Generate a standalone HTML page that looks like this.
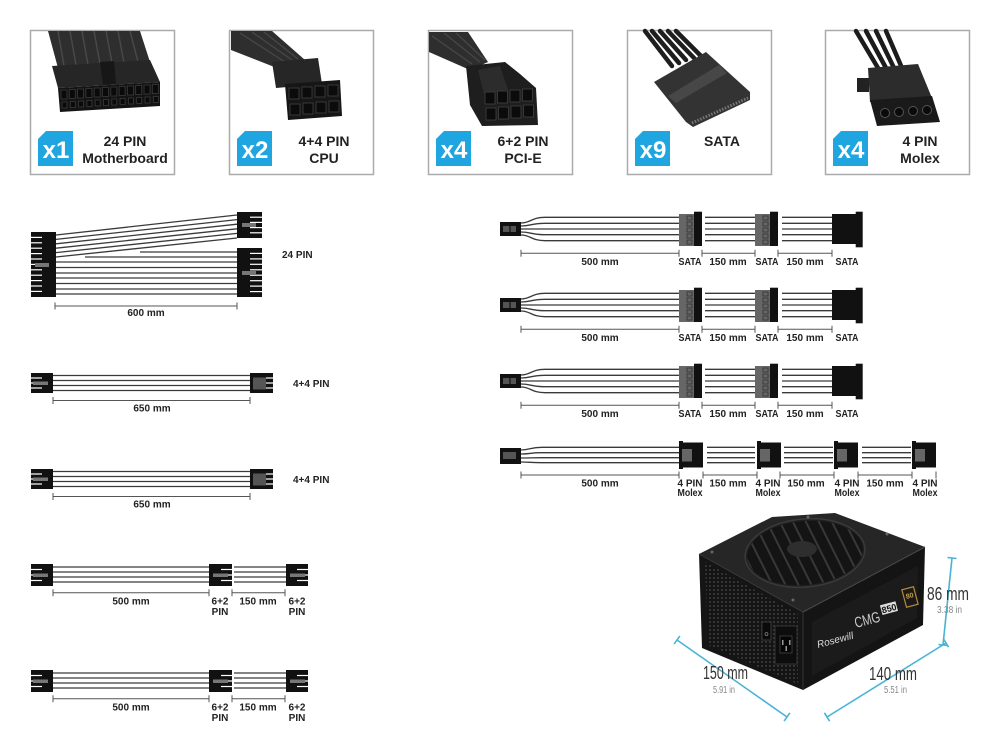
<!DOCTYPE html>
<html><head><meta charset="utf-8"><style>
html,body{margin:0;padding:0;background:#fff;}
svg{display:block;}
text{font-family:"Liberation Sans",Arial,sans-serif;}
.b{font-weight:bold;fill:#222;}
.l{font-size:10px;font-weight:bold;fill:#222;text-anchor:middle;}
.w{stroke:#3a3a3a;stroke-width:1.3;fill:none;}
.d{stroke:#555;stroke-width:1;fill:none;}
.st{stroke:#fff;stroke-width:1.2;}
.cy{stroke:#48b4d4;stroke-width:1.6;fill:none;}
</style></head><body>
<svg width="1000" height="750" viewBox="0 0 1000 750" xmlns="http://www.w3.org/2000/svg">
<defs>
<pattern id="mesh" width="4" height="4" patternUnits="userSpaceOnUse">
<rect width="4" height="4" fill="#141414"/><circle cx="2" cy="2" r="0.9" fill="#4a4a4a"/>
</pattern>
<clipPath id="fanclip"><ellipse cx="805" cy="553" rx="58" ry="32" transform="rotate(-5 805 553)"/></clipPath>
</defs>

<!-- ===== TOP BOXES ===== -->
<g fill="none" stroke="#aaa" stroke-width="1.5">
<rect x="30.5" y="30.5" width="144" height="144"/>
<rect x="229.5" y="30.5" width="144" height="144"/>
<rect x="428.5" y="30.5" width="144" height="144"/>
<rect x="627.5" y="30.5" width="144" height="144"/>
<rect x="825.5" y="30.5" width="144" height="144"/>
</g>

<!-- badges -->
<g fill="#1fa5df">
<polygon points="46,131 73,131 73,166 38,166 38,139"/>
<polygon points="245,131 272,131 272,166 237,166 237,139"/>
<polygon points="444,131 471,131 471,166 436,166 436,139"/>
<polygon points="643,131 670,131 670,166 635,166 635,139"/>
<polygon points="841,131 868,131 868,166 833,166 833,139"/>
</g>
<g font-size="24" font-weight="bold" fill="#fff" text-anchor="middle">
<text x="56" y="158">x1</text>
<text x="255" y="158">x2</text>
<text x="454" y="158">x4</text>
<text x="653" y="158">x9</text>
<text x="851" y="158">x4</text>
</g>
<g class="b" font-size="14" text-anchor="middle">
<text x="125" y="146">24 PIN</text>
<text x="125" y="163">Motherboard</text>
<text x="324" y="146">4+4 PIN</text>
<text x="324" y="163">CPU</text>
<text x="523" y="146">6+2 PIN</text>
<text x="523" y="163">PCI-E</text>
<text x="722" y="146">SATA</text>
<text x="920" y="146">4 PIN</text>
<text x="920" y="163">Molex</text>
</g>

<!-- box1 photo -->
<polygon points="48,31 140,31 150,62 58,68" fill="#2e2e2e"/>
<g stroke="#484848" stroke-width="1.5">
<line x1="58" y1="31" x2="64" y2="66"/><line x1="70" y1="31" x2="76" y2="65"/><line x1="82" y1="31" x2="88" y2="65"/>
<line x1="94" y1="31" x2="100" y2="64"/><line x1="106" y1="31" x2="112" y2="63"/><line x1="118" y1="31" x2="124" y2="63"/><line x1="130" y1="31" x2="138" y2="62"/>
</g>
<polygon points="52,66 150,60 160,82 58,88" fill="#262626"/>
<polygon points="100,62 114,61 116,84 103,85" fill="#171717"/>
<polygon points="58,88 160,82 160,106 60,112" fill="#141414"/>
<g fill="#0a0a0a" stroke="#3a3a3a" stroke-width="0.8">
<rect x="61" y="90" width="6" height="9"/><rect x="69.3" y="89.5" width="6" height="9"/><rect x="77.6" y="89" width="6" height="9"/><rect x="85.9" y="88.5" width="6" height="9"/>
<rect x="94.2" y="88" width="6" height="9"/><rect x="102.5" y="87.5" width="6" height="9"/><rect x="110.8" y="87" width="6" height="9"/><rect x="119.1" y="86.5" width="6" height="9"/>
<rect x="127.4" y="86" width="6" height="9"/><rect x="135.7" y="85.5" width="6" height="9"/><rect x="144" y="85" width="6" height="9"/><rect x="152.3" y="84.5" width="6" height="9"/>
<rect x="62" y="102" width="5" height="6"/><rect x="70.3" y="101.5" width="5" height="6"/><rect x="78.6" y="101" width="5" height="6"/><rect x="86.9" y="100.5" width="5" height="6"/>
<rect x="95.2" y="100" width="5" height="6"/><rect x="103.5" y="99.5" width="5" height="6"/><rect x="111.8" y="99" width="5" height="6"/><rect x="120.1" y="98.5" width="5" height="6"/>
<rect x="128.4" y="98" width="5" height="6"/><rect x="136.7" y="97.5" width="5" height="6"/><rect x="145" y="97" width="5" height="6"/><rect x="153.3" y="96.5" width="5" height="6"/>
</g>

<!-- box2 photo -->
<polygon points="231,31 272,31 305,60 282,70 231,50" fill="#2e2e2e"/>
<g stroke="#474747" stroke-width="1.3"><line x1="240" y1="33" x2="285" y2="62"/><line x1="252" y1="32" x2="292" y2="60"/><line x1="264" y1="32" x2="298" y2="59"/></g>
<polygon points="272,62 318,58 322,84 276,88" fill="#262626"/>
<polygon points="285,84 340,80 342,116 288,120" fill="#161616"/>
<g fill="#0b0b0b" stroke="#3c3c3c" stroke-width="0.9">
<rect x="289" y="88" width="10" height="11"/><rect x="302" y="87" width="10" height="11"/><rect x="315" y="86" width="10" height="11"/><rect x="328" y="85" width="10" height="11"/>
<rect x="290" y="104" width="10" height="11"/><rect x="303" y="103" width="10" height="11"/><rect x="316" y="102" width="10" height="11"/><rect x="329" y="101" width="10" height="11"/>
</g>

<!-- box3 photo -->
<polygon points="429,32 468,32 488,62 470,70 429,52" fill="#2e2e2e"/>
<g stroke="#474747" stroke-width="1.3"><line x1="432" y1="36" x2="472" y2="64"/><line x1="444" y1="33" x2="480" y2="62"/><line x1="456" y1="33" x2="485" y2="60"/></g>
<polygon points="466,66 505,62 520,74 536,88 538,125 482,126 470,105" fill="#1e1e1e"/>
<polygon points="478,70 500,66 508,90 484,94" fill="#2c2c2c"/>
<g fill="#0b0b0b" stroke="#3c3c3c" stroke-width="0.9">
<rect x="485" y="92" width="10" height="12"/><rect x="497.5" y="91" width="10" height="12"/><rect x="510" y="90" width="10" height="12"/><rect x="522.5" y="89" width="10" height="12"/>
<rect x="486" y="108" width="10" height="12"/><rect x="498.5" y="107" width="10" height="12"/><rect x="511" y="106" width="10" height="12"/><rect x="523.5" y="105" width="10" height="12"/>
</g>

<!-- box4 photo SATA -->
<g stroke="#1e1e1e" stroke-width="4.5" stroke-linecap="round">
<line x1="645" y1="31" x2="672" y2="66"/><line x1="652" y1="31" x2="679" y2="63"/><line x1="660" y1="31" x2="686" y2="60"/><line x1="668" y1="31" x2="694" y2="58"/><line x1="676" y1="31" x2="701" y2="56"/>
</g>
<polygon points="654,82 706,52 750,92 750,100 693,127 686,122" fill="#333"/>
<polygon points="668,96 719,65 727,73 676,103" fill="#474747"/>
<line x1="692" y1="123" x2="748" y2="98" stroke="#777" stroke-width="3" stroke-dasharray="1.5 1.5"/>

<!-- box5 photo Molex -->
<g stroke="#1c1c1c" stroke-width="4.5" stroke-linecap="round">
<line x1="856" y1="31" x2="878" y2="68"/><line x1="866" y1="31" x2="886" y2="68"/><line x1="876" y1="31" x2="894" y2="68"/><line x1="886" y1="31" x2="902" y2="68"/>
</g>
<polygon points="868,68 918,64 932,98 870,102" fill="#2c2c2c"/>
<rect x="857" y="78" width="12" height="14" fill="#222"/>
<polygon points="870,100 932,96 940,122 877,126" fill="#1a1a1a"/>
<g fill="#0a0a0a" stroke="#555" stroke-width="1">
<circle cx="885" cy="113" r="4.5"/><circle cx="899" cy="112" r="4.5"/><circle cx="913" cy="111" r="4.5"/><circle cx="927" cy="110" r="4.5"/>
</g>

<!-- ===== 24 PIN ===== -->
<g class="w">
<line x1="56" y1="235" x2="237" y2="215"/><line x1="56" y1="239.4" x2="237" y2="219.6"/><line x1="56" y1="243.8" x2="237" y2="224.2"/>
<line x1="56" y1="248.2" x2="237" y2="228.8"/><line x1="56" y1="252.6" x2="237" y2="233.4"/><line x1="56" y1="257" x2="237" y2="238"/>
<line x1="140" y1="252" x2="237" y2="252"/><line x1="85" y1="257" x2="237" y2="257"/>
<line x1="56" y1="262" x2="237" y2="262"/><line x1="56" y1="267.5" x2="237" y2="267.5"/><line x1="56" y1="273" x2="237" y2="273"/>
<line x1="56" y1="278" x2="237" y2="278"/><line x1="56" y1="283.5" x2="237" y2="283.5"/><line x1="56" y1="289" x2="237" y2="289"/><line x1="56" y1="294" x2="237" y2="294"/>
</g>
<rect x="31" y="232" width="25" height="65" fill="#111"/>
<g class="st">
<line x1="31" y1="237.4" x2="42" y2="237.4"/><line x1="31" y1="242.8" x2="42" y2="242.8"/><line x1="31" y1="248.2" x2="42" y2="248.2"/><line x1="31" y1="253.6" x2="42" y2="253.6"/>
<line x1="31" y1="259" x2="42" y2="259"/><line x1="31" y1="264.4" x2="42" y2="264.4"/><line x1="31" y1="269.8" x2="42" y2="269.8"/><line x1="31" y1="275.2" x2="42" y2="275.2"/>
<line x1="31" y1="280.6" x2="42" y2="280.6"/><line x1="31" y1="286" x2="42" y2="286"/><line x1="31" y1="291.4" x2="42" y2="291.4"/>
</g>
<rect x="35" y="263" width="14" height="4" fill="#777"/>
<rect x="237" y="212" width="25" height="26" fill="#111"/>
<g class="st"><line x1="250" y1="217.2" x2="262" y2="217.2"/><line x1="250" y1="222.4" x2="262" y2="222.4"/><line x1="250" y1="227.6" x2="262" y2="227.6"/><line x1="250" y1="232.8" x2="262" y2="232.8"/></g>
<rect x="242" y="223" width="14" height="4" fill="#777"/>
<rect x="237" y="248" width="25" height="49" fill="#111"/>
<g class="st">
<line x1="250" y1="253.4" x2="262" y2="253.4"/><line x1="250" y1="258.9" x2="262" y2="258.9"/><line x1="250" y1="264.3" x2="262" y2="264.3"/><line x1="250" y1="269.8" x2="262" y2="269.8"/>
<line x1="250" y1="275.2" x2="262" y2="275.2"/><line x1="250" y1="280.7" x2="262" y2="280.7"/><line x1="250" y1="286.1" x2="262" y2="286.1"/><line x1="250" y1="291.6" x2="262" y2="291.6"/>
</g>
<rect x="242" y="271" width="14" height="4" fill="#777"/>
<text class="b" font-size="10" x="282" y="258">24 PIN</text>
<g class="d"><line x1="55" y1="306" x2="237" y2="306"/><line x1="55" y1="302.5" x2="55" y2="309.5"/><line x1="237" y1="302.5" x2="237" y2="309.5"/></g>
<text class="l" x="146" y="316">600 mm</text>

<!-- ===== 4+4 PIN (x2) ===== -->
<g id="cpu">
<g class="w">
<line x1="53" y1="375.5" x2="250" y2="375.5"/><line x1="53" y1="380.5" x2="250" y2="380.5"/><line x1="53" y1="385.5" x2="250" y2="385.5"/><line x1="53" y1="390.5" x2="250" y2="390.5"/>
</g>
<rect x="31" y="373" width="22" height="20" fill="#111"/>
<g class="st"><line x1="31" y1="378" x2="42" y2="378"/><line x1="31" y1="383" x2="42" y2="383"/><line x1="31" y1="388" x2="42" y2="388"/></g>
<rect x="33" y="381.5" width="15" height="3.5" fill="#777"/>
<rect x="250" y="373" width="23" height="20" fill="#111"/>
<rect x="253" y="377.5" width="13" height="12" fill="#555"/>
<g class="st"><line x1="266" y1="378" x2="273" y2="378"/><line x1="266" y1="383" x2="273" y2="383"/><line x1="266" y1="388" x2="273" y2="388"/></g>
<text class="b" font-size="10" x="293" y="387">4+4 PIN</text>
<g class="d"><line x1="53" y1="400.5" x2="250" y2="400.5"/><line x1="53" y1="397" x2="53" y2="404"/><line x1="250" y1="397" x2="250" y2="404"/></g>
<text class="l" x="152" y="411.5">650 mm</text>
</g>
<use href="#cpu" transform="translate(0,96)"/>

<!-- ===== PCI-E (x2) ===== -->
<g id="pcie">
<g class="w">
<line x1="53" y1="567" x2="209" y2="567"/><line x1="53" y1="572" x2="209" y2="572"/><line x1="53" y1="577" x2="209" y2="577"/><line x1="53" y1="582" x2="209" y2="582"/>
<line x1="234" y1="567" x2="286" y2="567"/><line x1="234" y1="572" x2="286" y2="572"/><line x1="234" y1="577" x2="286" y2="577"/><line x1="234" y1="582" x2="286" y2="582"/>
</g>
<rect x="31" y="564" width="22" height="22" fill="#111"/>
<g class="st"><line x1="31" y1="569.5" x2="42" y2="569.5"/><line x1="31" y1="575" x2="42" y2="575"/><line x1="31" y1="580.5" x2="42" y2="580.5"/></g>
<rect x="33" y="573.5" width="15" height="3.5" fill="#777"/>
<rect x="209" y="564" width="23" height="22" fill="#111"/>
<g class="st"><line x1="221" y1="569.5" x2="232" y2="569.5"/><line x1="221" y1="575" x2="232" y2="575"/><line x1="221" y1="580.5" x2="232" y2="580.5"/></g>
<rect x="213" y="573.5" width="15" height="3.5" fill="#777"/>
<rect x="286" y="564" width="22" height="22" fill="#111"/>
<g class="st"><line x1="297" y1="569.5" x2="308" y2="569.5"/><line x1="297" y1="575" x2="308" y2="575"/><line x1="297" y1="580.5" x2="308" y2="580.5"/></g>
<rect x="290" y="573.5" width="15" height="3.5" fill="#777"/>
<g class="d">
<line x1="53" y1="592.7" x2="209" y2="592.7"/><line x1="53" y1="589.2" x2="53" y2="596.2"/><line x1="209" y1="589.2" x2="209" y2="596.2"/>
<line x1="232" y1="592.7" x2="285" y2="592.7"/><line x1="232" y1="589.2" x2="232" y2="596.2"/><line x1="285" y1="589.2" x2="285" y2="596.2"/>
</g>
<text class="l" x="131" y="604.5">500 mm</text>
<text class="l" x="258" y="604.5">150 mm</text>
<text class="l" x="220" y="604.5">6+2</text><text class="l" x="220" y="615">PIN</text>
<text class="l" x="297" y="604.5">6+2</text><text class="l" x="297" y="615">PIN</text>
</g>
<use href="#pcie" transform="translate(0,106)"/>

<!-- ===== SATA (x3) ===== -->
<g id="sata">
<g class="w">
<path d="M521,223 C531,223 531,217.3 545,217.3 L679,217.3"/>
<path d="M521,226 C531,226 531,223.3 545,223.3 L679,223.3"/>
<path d="M521,229 L679,229"/>
<path d="M521,232 C531,232 531,234.7 545,234.7 L679,234.7"/>
<path d="M521,235 C531,235 531,240.7 545,240.7 L679,240.7"/>
<line x1="705" y1="217.3" x2="755" y2="217.3"/><line x1="705" y1="223.3" x2="755" y2="223.3"/><line x1="705" y1="229" x2="755" y2="229"/><line x1="705" y1="234.7" x2="755" y2="234.7"/><line x1="705" y1="240.7" x2="755" y2="240.7"/>
<line x1="782" y1="217.3" x2="832" y2="217.3"/><line x1="782" y1="223.3" x2="832" y2="223.3"/><line x1="782" y1="229" x2="832" y2="229"/><line x1="782" y1="234.7" x2="832" y2="234.7"/><line x1="782" y1="240.7" x2="832" y2="240.7"/>
</g>
<rect x="500" y="222" width="21" height="14" fill="#111"/>
<rect x="503" y="226" width="13" height="6" fill="#555"/>
<line x1="510" y1="222" x2="510" y2="236" stroke="#111" stroke-width="1.2"/>
<rect x="679" y="214" width="15" height="32" fill="#666"/>
<rect x="694" y="211.7" width="8" height="34.3" fill="#111"/>
<g fill="none" stroke="#333" stroke-width="0.8">
<rect x="687" y="216" width="5" height="4"/><rect x="687" y="222" width="5" height="4"/><rect x="687" y="228" width="5" height="4"/><rect x="687" y="234" width="5" height="4"/><rect x="687" y="240" width="5" height="4"/>
</g>
<rect x="755" y="214" width="15" height="32" fill="#666"/>
<rect x="770" y="211.7" width="8" height="34.3" fill="#111"/>
<g fill="none" stroke="#333" stroke-width="0.8">
<rect x="763" y="216" width="5" height="4"/><rect x="763" y="222" width="5" height="4"/><rect x="763" y="228" width="5" height="4"/><rect x="763" y="234" width="5" height="4"/><rect x="763" y="240" width="5" height="4"/>
</g>
<rect x="832" y="214" width="24" height="30" fill="#111"/>
<rect x="855.7" y="211.7" width="7" height="35.6" fill="#111"/>
<g class="d">
<line x1="521" y1="253.3" x2="679" y2="253.3"/><line x1="521" y1="249.8" x2="521" y2="256.8"/><line x1="679" y1="249.8" x2="679" y2="256.8"/>
<line x1="702" y1="253.3" x2="755" y2="253.3"/><line x1="702" y1="249.8" x2="702" y2="256.8"/><line x1="755" y1="249.8" x2="755" y2="256.8"/>
<line x1="778" y1="253.3" x2="832" y2="253.3"/><line x1="778" y1="249.8" x2="778" y2="256.8"/><line x1="832" y1="249.8" x2="832" y2="256.8"/>
</g>
<text class="l" x="600" y="265">500 mm</text>
<text class="l" x="690" y="265" textLength="23" lengthAdjust="spacingAndGlyphs">SATA</text>
<text class="l" x="728" y="265">150 mm</text>
<text class="l" x="767" y="265" textLength="23" lengthAdjust="spacingAndGlyphs">SATA</text>
<text class="l" x="805" y="265">150 mm</text>
<text class="l" x="847" y="265" textLength="23" lengthAdjust="spacingAndGlyphs">SATA</text>
</g>
<use href="#sata" transform="translate(0,76)"/>
<use href="#sata" transform="translate(0,152)"/>

<!-- ===== MOLEX ===== -->
<g class="w">
<path d="M521,450 C530,450 530,447.3 542,447.3 L679,447.3"/>
<path d="M521,454 C530,454 530,452.7 542,452.7 L679,452.7"/>
<path d="M521,458 C530,458 530,457.7 542,457.7 L679,457.7"/>
<path d="M521,462 C530,462 530,462.7 542,462.7 L679,462.7"/>
<line x1="707" y1="447.3" x2="755" y2="447.3"/><line x1="707" y1="452.7" x2="755" y2="452.7"/><line x1="707" y1="457.7" x2="755" y2="457.7"/><line x1="707" y1="462.7" x2="755" y2="462.7"/>
<line x1="784" y1="447.3" x2="833" y2="447.3"/><line x1="784" y1="452.7" x2="833" y2="452.7"/><line x1="784" y1="457.7" x2="833" y2="457.7"/><line x1="784" y1="462.7" x2="833" y2="462.7"/>
<line x1="862" y1="447.3" x2="911" y2="447.3"/><line x1="862" y1="452.7" x2="911" y2="452.7"/><line x1="862" y1="457.7" x2="911" y2="457.7"/><line x1="862" y1="462.7" x2="911" y2="462.7"/>
</g>
<rect x="500" y="448" width="21" height="16" fill="#111"/>
<rect x="503" y="452" width="13" height="7" fill="#555"/>
<g fill="#111">
<rect x="679" y="441" width="4" height="28"/><rect x="681" y="442.5" width="22" height="25"/>
<rect x="757" y="441" width="4" height="28"/><rect x="759" y="442.5" width="22" height="25"/>
<rect x="834" y="441" width="4" height="28"/><rect x="836" y="442.5" width="22" height="25"/>
<rect x="912" y="441" width="4" height="28"/><rect x="914" y="442.5" width="22" height="25"/>
</g>
<g fill="#666">
<rect x="682" y="449" width="10" height="12.5"/><rect x="760" y="449" width="10" height="12.5"/><rect x="837" y="449" width="10" height="12.5"/><rect x="915" y="449" width="10" height="12.5"/>
</g>
<g class="d">
<line x1="521" y1="475" x2="679" y2="475"/><line x1="521" y1="471.5" x2="521" y2="478.5"/><line x1="679" y1="471.5" x2="679" y2="478.5"/>
<line x1="703" y1="475" x2="757" y2="475"/><line x1="703" y1="471.5" x2="703" y2="478.5"/><line x1="757" y1="471.5" x2="757" y2="478.5"/>
<line x1="780" y1="475" x2="834" y2="475"/><line x1="780" y1="471.5" x2="780" y2="478.5"/><line x1="834" y1="471.5" x2="834" y2="478.5"/>
<line x1="858" y1="475" x2="912" y2="475"/><line x1="858" y1="471.5" x2="858" y2="478.5"/><line x1="912" y1="471.5" x2="912" y2="478.5"/>
<line x1="936" y1="471.5" x2="936" y2="478.5"/>
</g>
<text class="l" x="600" y="486.5">500 mm</text>
<text class="l" x="728" y="486.5">150 mm</text>
<text class="l" x="806" y="486.5">150 mm</text>
<text class="l" x="885" y="486.5">150 mm</text>
<g>
<text class="l" x="690" y="486.5">4 PIN</text><text class="l" x="690" y="496" textLength="25" lengthAdjust="spacingAndGlyphs">Molex</text>
<text class="l" x="768" y="486.5">4 PIN</text><text class="l" x="768" y="496" textLength="25" lengthAdjust="spacingAndGlyphs">Molex</text>
<text class="l" x="847" y="486.5">4 PIN</text><text class="l" x="847" y="496" textLength="25" lengthAdjust="spacingAndGlyphs">Molex</text>
<text class="l" x="925" y="486.5">4 PIN</text><text class="l" x="925" y="496" textLength="25" lengthAdjust="spacingAndGlyphs">Molex</text>
</g>

<!-- ===== PSU ===== -->
<polygon points="699,554 772,517 835,513 925,547 803,612" fill="#262626"/>
<polygon points="699,554 803,612 803,690 702,648" fill="#151515"/>
<polygon points="705,562 798,614 798,684 708,645" fill="url(#mesh)"/>
<polygon points="803,612 925,547 923,625 803,690" fill="#141414"/>
<polygon points="812,622 918,566 917,618 812,676" fill="#1b1b1b"/>
<line x1="803" y1="612" x2="925" y2="547" stroke="#4a4a4a" stroke-width="1"/>
<line x1="699" y1="554" x2="803" y2="612" stroke="#3a3a3a" stroke-width="1"/>
<line x1="803" y1="612" x2="803" y2="690" stroke="#333" stroke-width="1"/>
<!-- fan -->
<ellipse cx="805" cy="553" rx="60" ry="34" transform="rotate(-5 805 553)" fill="#202020" stroke="#3a3a3a" stroke-width="1.5"/>
<ellipse cx="805" cy="553" rx="58" ry="32" transform="rotate(-5 805 553)" fill="#141414"/>
<g clip-path="url(#fanclip)" stroke="#383838" stroke-width="2">
<line x1="740" y1="520" x2="780" y2="600"/><line x1="752" y1="518" x2="792" y2="598"/><line x1="764" y1="516" x2="804" y2="596"/>
<line x1="776" y1="514" x2="816" y2="594"/><line x1="788" y1="512" x2="828" y2="592"/><line x1="800" y1="510" x2="840" y2="590"/>
<line x1="812" y1="508" x2="852" y2="588"/><line x1="824" y1="506" x2="864" y2="586"/><line x1="836" y1="504" x2="876" y2="584"/><line x1="728" y1="522" x2="768" y2="602"/>
</g>
<ellipse cx="802" cy="549" rx="15" ry="8" fill="#2e2e2e"/>
<circle cx="712" cy="552" r="1.5" fill="#666"/><circle cx="793" cy="600" r="1.5" fill="#666"/><circle cx="887" cy="534" r="1.5" fill="#666"/><circle cx="808" cy="517" r="1.5" fill="#666"/>
<!-- switch & socket -->
<rect x="762" y="622" width="9" height="18" fill="#0a0a0a" stroke="#444" stroke-width="0.8"/>
<circle cx="766.5" cy="634" r="1.5" fill="none" stroke="#aaa" stroke-width="0.6"/>
<rect x="775" y="626" width="22" height="38" fill="#0d0d0d" stroke="#333" stroke-width="1"/>
<rect x="780" y="636" width="12" height="17" fill="#050505" stroke="#444" stroke-width="0.8"/>
<g fill="#999"><rect x="782" y="640" width="1.5" height="5"/><rect x="785.5" y="646" width="1.5" height="5"/><rect x="789" y="640" width="1.5" height="5"/></g>
<!-- front labels -->
<text x="818" y="648" transform="rotate(-15 818 648)" font-family="Liberation Serif,serif" font-style="italic" font-size="10" fill="#ddd">Rosewill</text>
<text x="856" y="628" transform="rotate(-15 856 628)" font-size="15" fill="#ccc" textLength="26" lengthAdjust="spacingAndGlyphs">CMG</text>
<g transform="rotate(-15 890 612)">
<rect x="882" y="603" width="16" height="10" fill="#ddd"/>
<text x="890" y="611.5" font-size="9" font-weight="bold" fill="#111" text-anchor="middle">850</text>
</g>
<g transform="rotate(-15 910 597)">
<rect x="904" y="588" width="12" height="18" fill="#1a1a1a" stroke="#b38b3c" stroke-width="1.2"/>
<text x="910" y="598" font-size="7" font-weight="bold" fill="#c9a04a" text-anchor="middle">80</text>
</g>
<!-- dimension lines -->
<g class="cy">
<line x1="952" y1="558" x2="943" y2="645"/><line x1="947.5" y1="557.5" x2="956.5" y2="558.5"/><line x1="938.5" y1="644.5" x2="947.5" y2="645.5"/>
<line x1="677" y1="640" x2="787" y2="717"/><line x1="674.1" y1="644.1" x2="679.9" y2="635.9"/><line x1="784.1" y1="721.1" x2="789.9" y2="712.9"/>
<line x1="827" y1="717" x2="946" y2="643"/><line x1="824.4" y1="712.8" x2="829.6" y2="721.2"/><line x1="943.4" y1="638.8" x2="948.6" y2="647.2"/>
</g>
<text x="927" y="600" font-size="18" fill="#333" textLength="42" lengthAdjust="spacingAndGlyphs">86 mm</text>
<text x="937" y="613" font-size="10" fill="#888" textLength="25" lengthAdjust="spacingAndGlyphs">3.38 in</text>
<text x="703" y="679" font-size="18" fill="#333" textLength="45" lengthAdjust="spacingAndGlyphs">150 mm</text>
<text x="713" y="693" font-size="10" fill="#888" textLength="22" lengthAdjust="spacingAndGlyphs">5.91 in</text>
<text x="869" y="680" font-size="18" fill="#333" textLength="48" lengthAdjust="spacingAndGlyphs">140 mm</text>
<text x="884" y="693" font-size="10" fill="#888" textLength="23" lengthAdjust="spacingAndGlyphs">5.51 in</text>
</svg>
</body></html>
